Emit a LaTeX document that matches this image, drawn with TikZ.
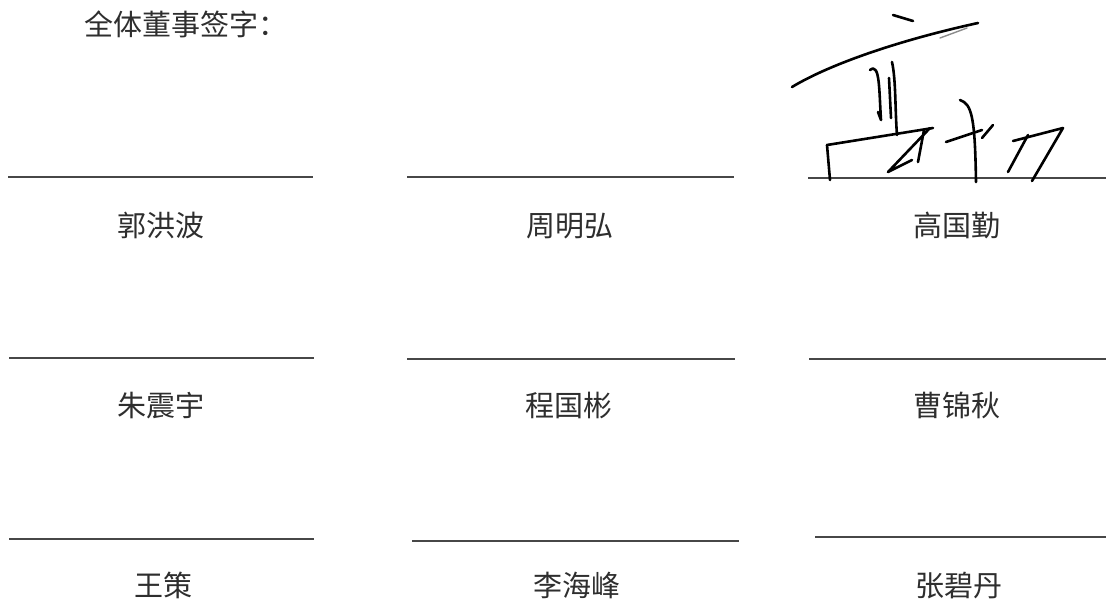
\documentclass[tikz,border=0pt]{standalone}
\usepackage{fontspec}
\newfontfamily\cjk{Noto Sans CJK SC}
\begin{document}
\begin{tikzpicture}[x=1pt,y=-1pt,
  sigline/.style={draw=black!72, line width=2pt},
  namelabel/.style={font=\cjk\fontsize{29}{29}\selectfont, text=black!82, anchor=base, inner sep=0pt},
  pen/.style={draw=black, line width=2.6pt, line cap=round, line join=round},
  thinpen/.style={draw=black!45, line width=1.4pt, line cap=round}]
\fill[white] (0,0) rectangle (1106,603);
\useasboundingbox (0,0) rectangle (1106,603);
% title
\node[namelabel, anchor=base west] (title) at (84,35) {全体董事签字：};
% signature lines
\coordinate (a1) at (8,177);   \coordinate (b1) at (313,177);
\coordinate (a2) at (407,177); \coordinate (b2) at (734,177);
\coordinate (a3) at (808,178); \coordinate (b3) at (1106,178);
\coordinate (a4) at (9,358);   \coordinate (b4) at (314,358);
\coordinate (a5) at (407,359); \coordinate (b5) at (735,359);
\coordinate (a6) at (809,359); \coordinate (b6) at (1106,359);
\coordinate (a7) at (9,539);   \coordinate (b7) at (314,539);
\coordinate (a8) at (412,541); \coordinate (b8) at (739,541);
\coordinate (a9) at (815,537); \coordinate (b9) at (1106,537);
\foreach \i in {1,...,9} {\draw[sigline] (a\i) -- (b\i);}
% names
\node[namelabel] (n1) at (161,236) {郭洪波};
\node[namelabel] (n2) at (570,236) {周明弘};
\node[namelabel] (n3) at (957,236) {高国勤};
\node[namelabel] (n4) at (161,416) {朱震宇};
\node[namelabel] (n5) at (569,416) {程国彬};
\node[namelabel] (n6) at (957,416) {曹锦秋};
\node[namelabel] (n7) at (163,596) {王策};
\node[namelabel] (n8) at (577,596) {李海峰};
\node[namelabel] (n9) at (959,596) {张碧丹};
% handwritten signature
\draw[pen] (893,15) -- (913,21);
\draw[pen] (792,87) .. controls (830,64) and (900,40) .. (978,23);
\draw[thinpen] (940,38) -- (967,28);
\draw[pen] (870,70) .. controls (880,62) and (879,90) .. (881,120) -- (878,112);
\draw[pen] (892,62) .. controls (896,80) and (895,110) .. (897,135);
\draw[pen] (889,78) -- (891,118);
\draw[pen] (827,145) -- (933,128);
\draw[pen] (827,145) -- (830,180);
\draw[pen] (930,128) -- (888,172) -- (912,160);
\draw[pen] (924,130) -- (918,162);
\draw[pen] (960,100) .. controls (972,104) and (975,118) .. (976,182);
\draw[pen] (946,142) -- (982,130);
\draw[pen] (982,138) -- (993,125);
\draw[pen] (1013,141) -- (1063,128) -- (1032,181);
\draw[pen] (1028,135) -- (1008,172);
\end{tikzpicture}
\end{document}
